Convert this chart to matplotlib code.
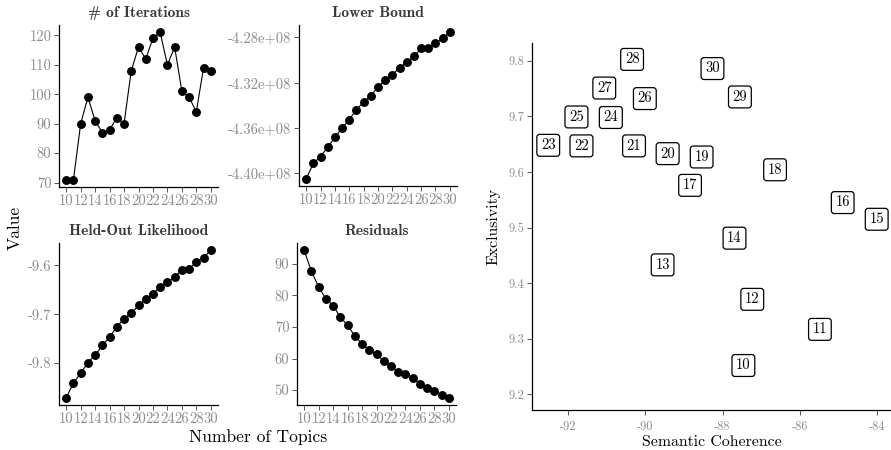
import matplotlib
matplotlib.use("Agg")
import matplotlib.pyplot as plt
from matplotlib.ticker import FuncFormatter, MultipleLocator

plt.rcParams['font.family'] = ['cmr10', 'DejaVu Serif']
plt.rcParams['axes.unicode_minus'] = False
plt.rcParams['mathtext.fontset'] = 'cm'

# number of topics (K) for the diagnostics panels
topics = list(range(10, 31))
iterations = [71, 71, 90, 99, 91, 87, 88, 92, 90, 108, 116, 112, 119, 121,
              110, 116, 101, 99, 94, 109, 108]
lower_bound = [-4.405, -4.3915, -4.3854, -4.3772, -4.3685, -4.3603, -4.3527,
               -4.3439, -4.3372, -4.3317, -4.3238, -4.3177, -4.3130, -4.3069,
               -4.3019, -4.2969, -4.2899, -4.2899, -4.2853, -4.2809, -4.2756]
lower_bound = [v * 1e8 for v in lower_bound]
heldout = [-9.871, -9.841, -9.821, -9.799, -9.784, -9.764, -9.747, -9.726,
           -9.709, -9.698, -9.682, -9.669, -9.658, -9.644, -9.633, -9.624,
           -9.609, -9.6075, -9.5925, -9.584, -9.569]
residuals = [94.3, 87.6, 82.7, 78.9, 76.8, 73.1, 70.6, 67.1, 64.7, 62.7, 61.4,
             59.2, 57.5, 55.8, 55.2, 53.9, 52.0, 50.5, 49.7, 48.4, 47.6]

# semantic coherence vs exclusivity, one label per K
sc_k = [10, 11, 12, 13, 14, 15, 16, 17, 18, 19, 20, 21, 22, 23, 24, 25, 26,
        27, 28, 29, 30]
sem_coh = [-87.46, -85.48, -87.23, -89.55, -87.69, -84.01, -84.89, -88.84,
           -86.64, -88.54, -89.42, -90.29, -91.65, -92.51, -90.89, -91.78,
           -90.01, -91.06, -90.34, -87.55, -88.26]
exclus = [9.252, 9.317, 9.371, 9.433, 9.481, 9.515, 9.545, 9.576, 9.604,
          9.627, 9.633, 9.647, 9.647, 9.648, 9.698, 9.699, 9.732, 9.751,
          9.8025, 9.735, 9.786]

W, H = 891, 450
TICK_GREY = '#8c8c8c'


def box(left, right, top, bottom):
    return [left / W, 1 - bottom / H, (right - left) / W, (bottom - top) / H]


def style(ax, tick_size):
    for s in ['top', 'right']:
        ax.spines[s].set_visible(False)
    for s in ['left', 'bottom']:
        ax.spines[s].set_linewidth(0.9)
        ax.spines[s].set_color('black')
    ax.tick_params(axis='both', direction='out', length=3.5, width=0.7,
                   color='#555555', labelcolor=TICK_GREY, labelsize=tick_size,
                   pad=2)


def panel(ax, y, title, yticks, fmt=None):
    ax.plot(topics, y, color='black', lw=0.8, marker='o', ms=5.4)
    ax.set_xlim(9, 31)
    ax.set_xticks(range(10, 31, 2))
    lo, hi = min(y), max(y)
    pad = (hi - lo) * 0.05
    ax.set_ylim(lo - pad, hi + pad)
    ax.set_yticks(yticks)
    if fmt is not None:
        ax.yaxis.set_major_formatter(FuncFormatter(fmt))
    ax.set_title(title, fontfamily='cmb10', fontsize=11.2, color='#3a3a3a',
                 pad=6)
    style(ax, 10.5)


fig = plt.figure(figsize=(W / 100, H / 100), dpi=100)

ax1 = fig.add_axes(box(59, 218, 25, 187))
panel(ax1, iterations, '# of Iterations', [70, 80, 90, 100, 110, 120])

ax2 = fig.add_axes(box(299, 457, 25, 186))
panel(ax2, lower_bound, 'Lower Bound', [-4.40e8, -4.36e8, -4.32e8, -4.28e8],
      fmt=lambda v, p: f"{v:.2e}")

ax3 = fig.add_axes(box(59, 218, 243, 405))
panel(ax3, heldout, 'Held-Out Likelihood', [-9.8, -9.7, -9.6],
      fmt=lambda v, p: f"{v:.1f}")

ax4 = fig.add_axes(box(297, 456, 243, 405))
panel(ax4, residuals, 'Residuals', [50, 60, 70, 80, 90])

fig.text(15 / W, 1 - 228 / H, 'Value', rotation=90, ha='center', va='center',
         fontsize=12.6)
fig.text(258 / W, 1 - 437 / H, 'Number of Topics', ha='center', va='center',
         fontsize=12.6)

# semantic coherence / exclusivity scatter
ax5 = fig.add_axes(box(532, 891, 43, 410))
for k, xv, yv in zip(sc_k, sem_coh, exclus):
    ax5.text(xv, yv, str(k), ha='center', va='center', fontsize=10.5,
             bbox=dict(boxstyle='round,pad=0.28,rounding_size=0.2',
                       fc='white', ec='black', lw=0.9))
ax5.set_xlim(-92.93, -83.64)
ax5.set_ylim(9.172, 9.832)
ax5.xaxis.set_major_locator(MultipleLocator(2))
ax5.set_yticks([9.2, 9.3, 9.4, 9.5, 9.6, 9.7, 9.8])
ax5.yaxis.set_major_formatter(FuncFormatter(lambda v, p: f"{v:.1f}"))
ax5.xaxis.set_major_formatter(FuncFormatter(lambda v, p: f"{v:.0f}"))
style(ax5, 9)
ax5.tick_params(axis='x', pad=4)
ax5.set_xlabel('Semantic Coherence', fontsize=11.4, labelpad=2)
ax5.set_ylabel('Exclusivity', fontsize=11.4, labelpad=6)

fig.savefig('out.png', dpi=100)
